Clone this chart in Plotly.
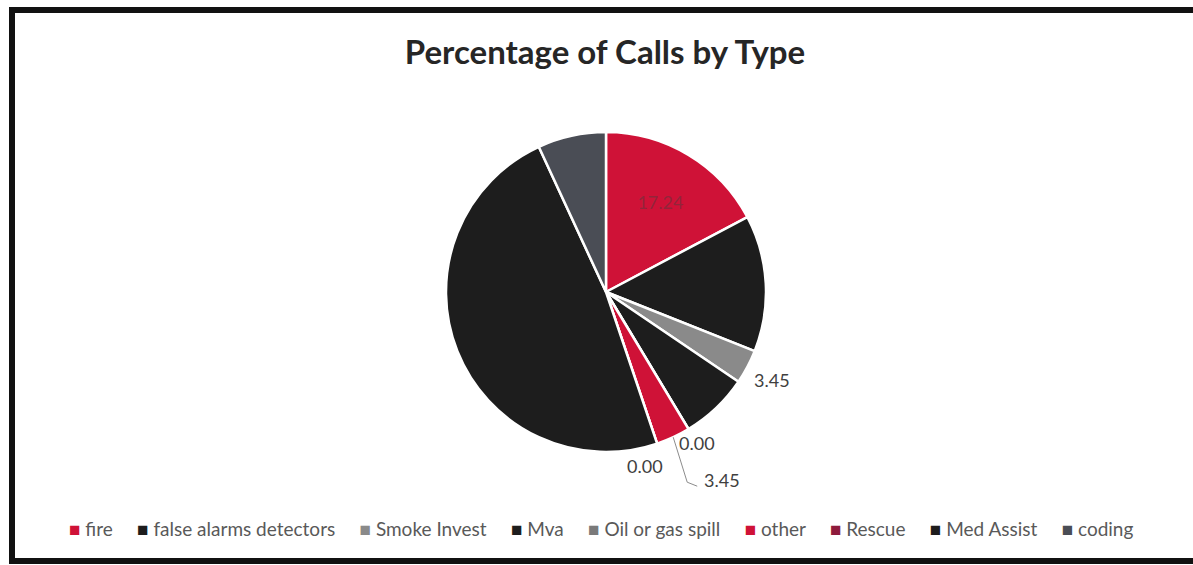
import math
import plotly.graph_objects as go

categories = ["fire", "false alarms detectors", "Smoke Invest", "Mva", "Oil or gas spill",
              "other", "Rescue", "Med Assist", "coding"]
values = [17.24, 13.79, 3.45, 6.90, 0.00, 3.45, 0.00, 48.28, 6.90]
colors = ["#cf1237", "#1d1d1d", "#8a8a8a", "#1d1d1d", "#7a7a7a",
          "#cf1237", "#8e1b3c", "#1d1d1d", "#4a4d55"]

W, H = 1193, 565
CX, CY, R = 606, 292, 160  # pie placement in pixels

fig = go.Figure()
fig.add_trace(go.Pie(
    labels=categories, values=values, sort=False, direction="clockwise", rotation=0,
    marker=dict(colors=colors, line=dict(color="white", width=2.5)),
    texttemplate=["%{value:.2f}"] + [""] * 8,
    textposition=["inside"] + ["none"] * 8,
    textfont=dict(family="Lato", size=18, color="rgba(120,45,60,0.7)"),
    insidetextorientation="horizontal",
    domain=dict(x=[(CX - R) / W, (CX + R) / W], y=[1 - (CY + R) / H, 1 - (CY - R) / H]),
    hoverinfo="label+value",
    showlegend=False,
))

total = sum(values)
cum = 0.0
mids = []
for v in values:
    mids.append((cum + v / 2) / total * 360.0)
    cum += v


def pt(theta_deg, d):
    t = math.radians(theta_deg)
    return CX + d * math.sin(t), CY - d * math.cos(t)


def to_paper(px, py):
    return px / W, 1 - py / H


annotations = []
shapes = []
lab_font = dict(family="Lato", size=18, color="#404040")

# Smoke Invest label
x, y = to_paper(*pt(mids[2], 188))
annotations.append(dict(x=x, y=y, xref="paper", yref="paper", text=f"{values[2]:.2f}",
                        showarrow=False, font=lab_font, xanchor="center", yanchor="middle"))
# Oil or gas spill label
x, y = to_paper(*pt(mids[4], 176))
annotations.append(dict(x=x, y=y, xref="paper", yref="paper", text=f"{values[4]:.2f}",
                        showarrow=False, font=lab_font, xanchor="center", yanchor="middle"))
# Rescue label
x, y = to_paper(*pt(mids[6], 184))
annotations.append(dict(x=x, y=y, xref="paper", yref="paper", text=f"{values[6]:.2f}",
                        showarrow=False, font=lab_font, xanchor="right", yanchor="middle"))
# other label with leader line
ex, ey = pt(mids[5], R)
bx, by = ex + 14, ey + 45
fx, fy = bx + 10, by + 4
p0 = to_paper(ex, ey)
p1 = to_paper(bx, by)
p2 = to_paper(fx, fy)
shapes.append(dict(type="path", xref="paper", yref="paper",
                   path=f"M {p0[0]},{p0[1]} L {p1[0]},{p1[1]} L {p2[0]},{p2[1]}",
                   line=dict(color="#8c8c8c", width=1)))
x, y = to_paper(fx + 5, fy - 6)
annotations.append(dict(x=x, y=y, xref="paper", yref="paper", text=f"{values[5]:.2f}",
                        showarrow=False, font=lab_font, xanchor="left", yanchor="middle"))

# legend built as a single line of text with coloured squares
items = []
for name, col in zip(categories, colors):
    items.append(f"<span style='color:{col};font-size:19px'>■</span>&nbsp;{name}")
legend_text = "&nbsp;&nbsp;&nbsp;&nbsp;&nbsp;".join(items)
lx, ly = to_paper(601, 528)
annotations.append(dict(x=lx, y=ly, xref="paper", yref="paper", text=legend_text,
                        showarrow=False, xanchor="center", yanchor="middle",
                        font=dict(family="Lato", size=19, color="#595959")))

# outer frame
shapes.append(dict(type="rect", xref="paper", yref="paper",
                   x0=12 / W, x1=1.01, y0=1 - 561 / H, y1=1 - 10 / H,
                   line=dict(color="#111111", width=6), fillcolor="rgba(0,0,0,0)", layer="above"))

fig.update_layout(
    width=W, height=H,
    margin=dict(l=0, r=0, t=0, b=0),
    paper_bgcolor="white", plot_bgcolor="white",
    title=dict(text="<b>Percentage of Calls by Type</b>", x=605 / W, xanchor="center",
               y=1 - 52 / H, yanchor="middle",
               font=dict(family="Lato", size=33, color="#262626")),
    showlegend=False,
    annotations=annotations, shapes=shapes,
)

fig.write_html("out.html", config={"displayModeBar": False},
               post_script="document.body.style.margin='0';document.body.style.overflow='hidden';")
